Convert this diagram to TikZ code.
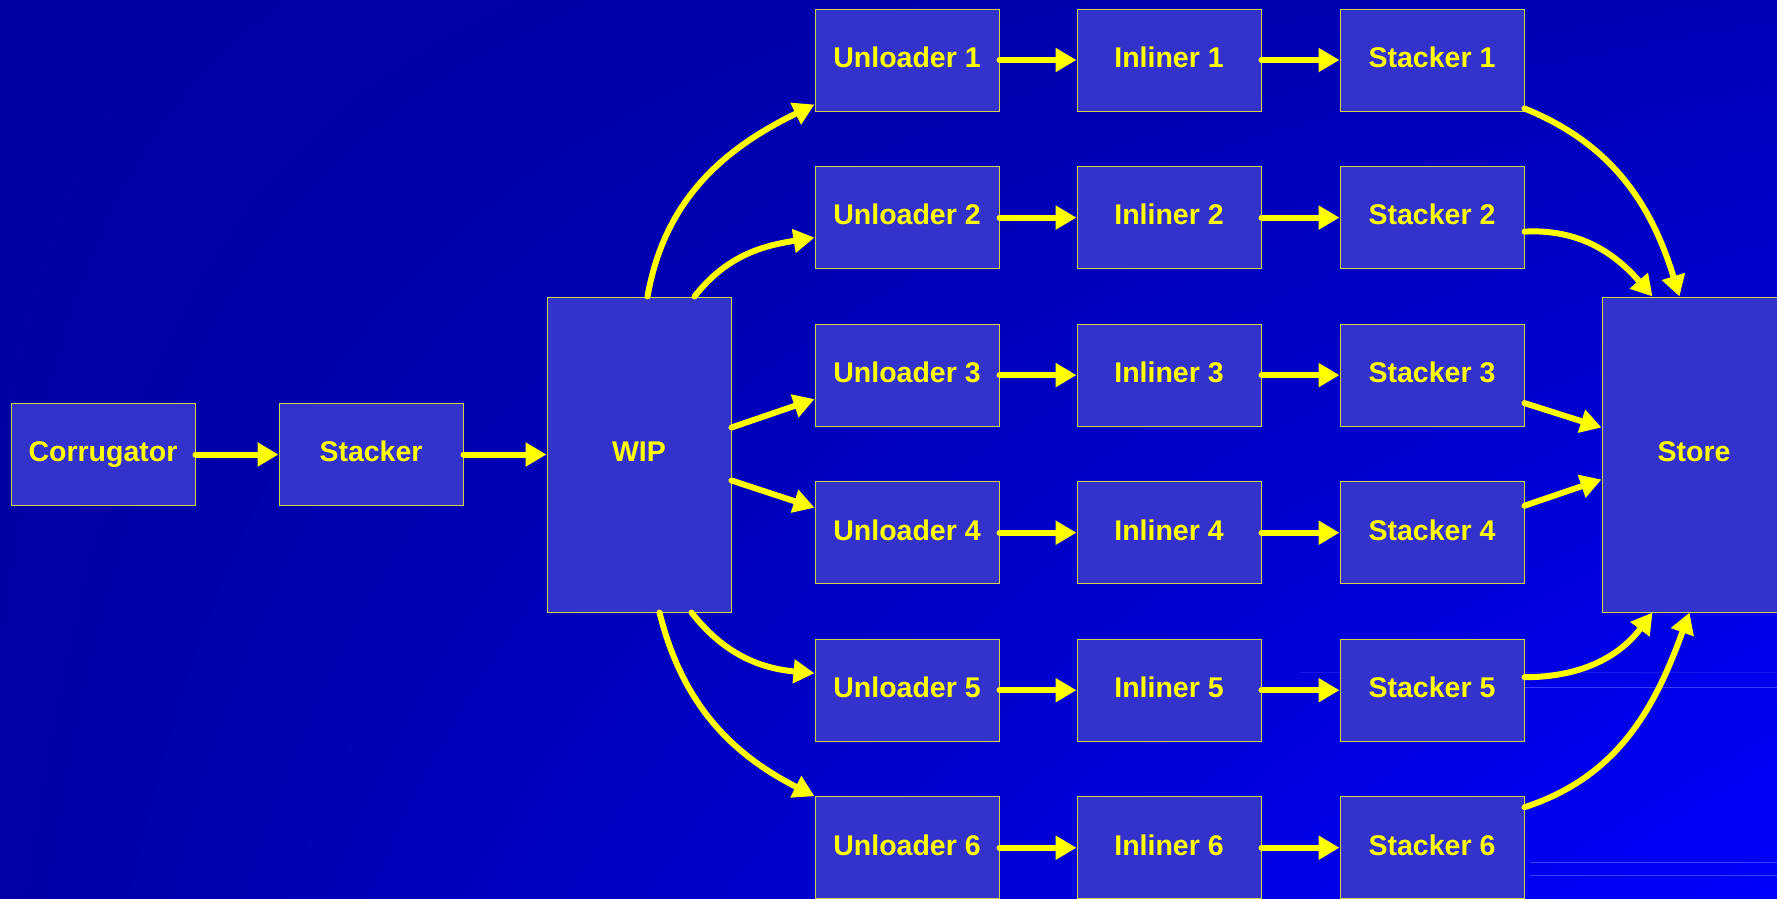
\documentclass[tikz,border=0pt]{standalone}
\usepackage{fontspec}
\setmainfont{Liberation Sans}
\usetikzlibrary{arrows.meta,shadings}
\definecolor{boxfill}{RGB}{51,51,204}
\definecolor{boxline}{RGB}{210,210,70}
\definecolor{ylw}{RGB}{255,255,0}
\definecolor{bgul}{RGB}{0,0,160}
\definecolor{bgur}{RGB}{0,0,182}
\definecolor{bgll}{RGB}{0,0,165}
\definecolor{bglr}{RGB}{0,0,255}
\definecolor{faint}{RGB}{60,60,255}
\begin{document}
\begin{tikzpicture}[x=1pt,y=-1pt,
  blk/.style={draw=boxline, line width=1pt, fill=boxfill, minimum width=184pt,
    minimum height=102pt, inner sep=0pt, text=ylw,
    font=\fontsize{28.5pt}{32pt}\selectfont\bfseries, text depth=6pt},
  flow/.style={draw=ylw, line width=6pt, line cap=round,
    -{Triangle[length=21pt,width=23pt]}},
  faintline/.style={draw=faint, line width=1pt}]
\useasboundingbox (0,0) rectangle (1777,898);
\clip (0,0) rectangle (1777,898);
\shade[upper left=bgul, upper right=bgur, lower left=bgll, lower right=bglr]
  (0,0) rectangle (1777,898);
\draw[faintline, draw opacity=0.4] (1300,672) -- (1777,672);
\draw[faintline] (1524,687) -- (1777,687);
\draw[faintline] (1530,862) -- (1777,862);
\draw[faintline] (1530,875) -- (1777,875);

\node[blk] (corr) at (103,454.5) {Corrugator};
\node[blk] (stk) at (371,454.5) {Stacker};
\node[blk, minimum height=315pt] (wip) at (639,454.5) {WIP};
\node[blk, minimum height=315pt] (store) at (1694,454.5) {Store};
\foreach \i/\y in {1/60,2/217.6,3/375.1,4/532.7,5/690.2,6/847.7} {
  \node[blk] (u\i) at (907,\y) {Unloader \i};
  \node[blk] (in\i) at (1169,\y) {Inliner \i};
  \node[blk] (s\i) at (1432,\y) {Stacker \i};
  \draw[flow] (u\i) -- (in\i);
  \draw[flow] (in\i) -- (s\i);
}
\draw[flow] (corr) -- (stk);
\draw[flow] (stk) -- (wip);

\draw[flow] ([xshift=101pt]wip.north west) to[out=80,in=206] ([yshift=7pt]u1.south west);
\draw[flow] ([xshift=148pt]wip.north west) to[out=52,in=189] ([yshift=-20pt]u2.west);
\draw[flow] ([yshift=27pt]wip.east) -- ([yshift=-24pt]u3.west);
\draw[flow] ([yshift=-26pt]wip.east) -- ([yshift=25pt]u4.west);
\draw[flow] ([xshift=145pt]wip.south west) to[out=-52,in=175] ([yshift=17pt]u5.west);
\draw[flow] ([xshift=113pt]wip.south west) to[out=-76,in=153] (u6.north west);

\draw[flow] ([yshift=3pt]s1.south east) to[out=-22,in=107] ([xshift=78pt]store.north west);
\draw[flow] ([yshift=-14pt]s2.east) to[out=3,in=131] ([xshift=51pt]store.north west);
\draw[flow] ([yshift=-28pt]s3.east) -- ([yshift=27pt]store.west);
\draw[flow] ([yshift=27pt]s4.east) -- ([yshift=-25pt]store.west);
\draw[flow] ([yshift=13pt]s5.east) to[out=0,in=-127] ([xshift=51pt]store.south west);
\draw[flow] ([yshift=-11pt]s6.north east) to[out=18,in=-110] ([xshift=88pt]store.south west);
\end{tikzpicture}
\end{document}
